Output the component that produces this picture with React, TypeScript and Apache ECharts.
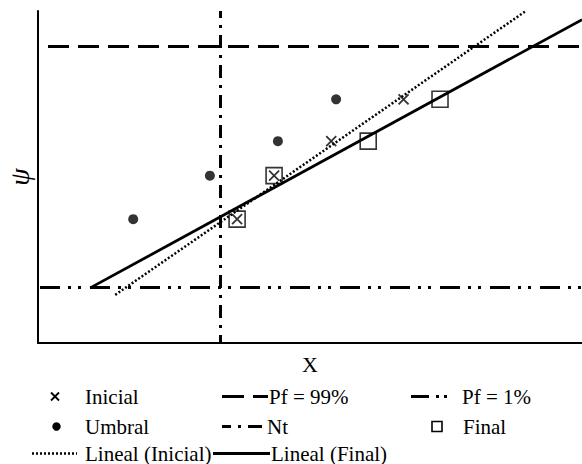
import React, { useEffect, useRef } from "react";
import * as echarts from "echarts";

// ---- data (axis units 0..10 on both axes) ----
const umbralX = [1.75, 3.16, 4.41, 5.48];
const umbralY = [3.73, 5.04, 6.08, 7.34];
const inicialX = [3.66, 4.34, 5.39, 6.72];
const inicialY = [3.73, 5.04, 6.08, 7.34];
const finalX = [3.66, 4.34, 6.07, 7.39];
const finalY = [3.73, 5.04, 6.08, 7.34];
const pf99 = 8.93;
const pf1 = 1.67;
const nt = 3.355;
const linealInicialX = [1.42, 8.95];
const linealInicialY = [1.45, 9.98];
const linealFinalX = [0.96, 10];
const linealFinalY = [1.66, 9.74];
const axisMin = 0;
const axisMax = 10;

const legendLabels = [
  "Inicial", "Pf = 99%", "Pf = 1%",
  "Umbral", "Nt", "Final",
  "Lineal (Inicial)", "Lineal (Final)",
];

const zip = (xs: number[], ys: number[]) => xs.map((x, i) => [x, ys[i]]);

const FONT = "Liberation Serif";
const CROSS = "path://M0,0L10,10M10,0L0,10";

export default function App() {
  const ref = useRef<HTMLDivElement>(null);
  useEffect(() => {
    if (!ref.current) return;
    const chart = echarts.init(ref.current, null, { renderer: "svg" });

    const txt = (text: string, x: number, y: number) => ({
      type: "text",
      style: { text, x, y, fontFamily: FONT, fontSize: 21, fill: "#000", verticalAlign: "middle" },
    });
    const ln = (x1: number, y1: number, x2: number, y2: number, w: number, dash?: number[]) => ({
      type: "line",
      shape: { x1, y1, x2, y2 },
      style: { stroke: "#000", lineWidth: w, lineDash: dash || null },
    });
    const r1 = 396.5, r2 = 426.5, r3 = 453.5;

    chart.setOption({
      animation: false,
      backgroundColor: "#fff",
      grid: {
        left: 38, right: 0, top: 11, bottom: 121,
        containLabel: false, outerBoundsMode: "none",
      },
      xAxis: {
        type: "value",
        min: axisMin,
        max: axisMax,
        name: "X",
        nameLocation: "middle",
        nameGap: 10,
        nameTextStyle: { fontFamily: FONT, fontSize: 22, color: "#000" },
        axisLine: { lineStyle: { color: "#000", width: 2 } },
        axisTick: { show: false },
        axisLabel: { show: false },
        splitLine: { show: false },
      },
      yAxis: {
        type: "value",
        min: axisMin,
        max: axisMax,
        name: "ψ",
        nameLocation: "middle",
        nameRotate: 90,
        nameGap: 5,
        nameTextStyle: { fontFamily: FONT, fontSize: 28, fontStyle: "italic", color: "#000" },
        axisLine: { show: true, lineStyle: { color: "#000", width: 2 } },
        axisTick: { show: false },
        axisLabel: { show: false },
        splitLine: { show: false },
      },
      series: [
        {
          type: "line",
          symbol: "none",
          data: [[axisMin, pf99], [axisMax, pf99]],
          lineStyle: { color: "#000", width: 3, type: [21, 9], dashOffset: 20 },
        },
        {
          type: "line",
          symbol: "none",
          data: [[axisMin, pf1], [axisMax, pf1]],
          lineStyle: { color: "#000", width: 3, type: [20, 8, 3, 7, 3, 9], dashOffset: 48 },
        },
        {
          type: "line",
          symbol: "none",
          data: [[nt, axisMin], [nt, axisMax]],
          lineStyle: { color: "#000", width: 3, type: [13, 7, 3, 7], dashOffset: 5 },
        },
        {
          type: "line",
          symbol: "none",
          data: zip(linealInicialX, linealInicialY),
          lineStyle: { color: "#000", width: 2.5, type: [2, 2] },
        },
        {
          type: "line",
          symbol: "none",
          data: zip(linealFinalX, linealFinalY),
          lineStyle: { color: "#000", width: 2.8 },
        },
        {
          type: "scatter",
          symbol: "circle",
          symbolSize: 10,
          data: zip(umbralX, umbralY),
          itemStyle: { color: "#000" },
        },
        {
          type: "scatter",
          symbol: "rect",
          symbolSize: 16,
          data: zip(finalX, finalY),
          itemStyle: { color: "transparent", borderColor: "#000", borderWidth: 1.6 },
        },
        {
          type: "scatter",
          symbol: CROSS,
          symbolSize: 10,
          data: zip(inicialX, inicialY),
          itemStyle: { color: "transparent", borderColor: "#000", borderWidth: 1.8 },
        },
      ],
      graphic: [
        // row 1
        ln(51, r1 - 4, 59, r1 + 4, 1.8),
        ln(59, r1 - 4, 51, r1 + 4, 1.8),
        txt(legendLabels[0], 85, r1),
        ln(222, r1, 268, r1, 3, [22, 9]),
        txt(legendLabels[1], 269, r1),
        ln(411, r1, 455, r1, 3, [18, 7, 3, 5, 3, 20]),
        txt(legendLabels[2], 462, r1),
        // row 2
        { type: "circle", shape: { cx: 56.5, cy: r2, r: 4.2 }, style: { fill: "#000" } },
        txt(legendLabels[3], 85, r2),
        ln(222, r2, 262, r2, 3, [9, 7, 3, 7, 14, 10]),
        txt(legendLabels[4], 267, r2),
        {
          type: "rect",
          shape: { x: 432, y: r2 - 5, width: 10, height: 10 },
          style: { fill: "none", stroke: "#000", lineWidth: 1.6 },
        },
        txt(legendLabels[5], 463, r2),
        // row 3
        ln(32, r3, 77, r3, 2.5, [2, 2]),
        txt(legendLabels[6], 85, r3),
        ln(213, r3, 270, r3, 2.8),
        txt(legendLabels[7], 271, r3),
      ],
    });
    return () => chart.dispose();
  }, []);
  return (
    <div
      ref={ref}
      style={{ position: "absolute", left: 0, top: 0, width: 582, height: 464 }}
    />
  );
}
